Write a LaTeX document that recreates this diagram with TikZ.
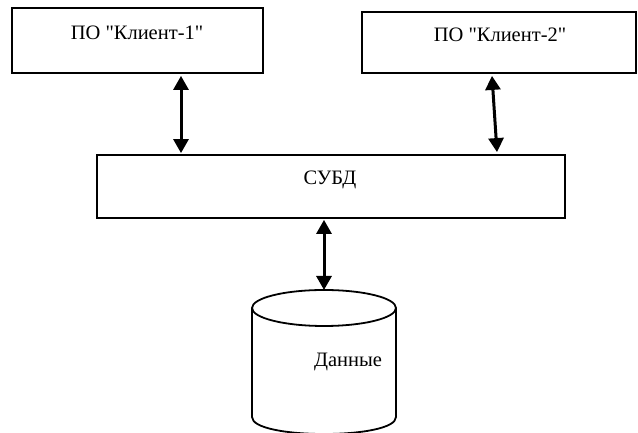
\documentclass[tikz,border=0pt]{standalone}
\usepackage{fontspec}
\setmainfont{Liberation Serif}[Ligatures=TeXOff]
\usetikzlibrary{arrows.meta}
\begin{document}
\begin{tikzpicture}[x=1pt,y=1pt,
  box/.style={draw=black,line width=1.8pt,rectangle,inner sep=0pt},
  lbl/.style={inner sep=0pt,font=\fontsize{20.5}{24}\selectfont},
  arr/.style={line width=3pt,{Triangle[width=15pt,length=14pt]}-{Triangle[width=15pt,length=14pt]}}]
\useasboundingbox (0,0) rectangle (638,433);
\fill[white] (0,0) rectangle (638,433);
% boxes
\node[box,minimum width=251pt,minimum height=65pt] (k1) at (137.5,392.5) {};
\node[box,minimum width=274pt,minimum height=61pt] (k2) at (499,390.5) {};
\node[box,minimum width=468pt,minimum height=63pt] (db) at (331,246.5) {};
% texts
\node[lbl] (t1) at (137,400) {ПО "Клиент-1"};
\node[lbl] (t2) at (500,398) {ПО "Клиент-2"};
\node[lbl] (t3) at (330,253.5) {СУБД};
% cylinder
\coordinate (cyl) at (324,143);
\draw[line width=1.8pt] (324,125) ellipse [x radius=72pt, y radius=18pt];
\draw[line width=1.8pt] (252,125) -- (252,16) .. controls (252,-6.7) and (396,-6.7) .. (396,16) -- (396,125);
\node[lbl] (t4) at (348,71) {Данные};
% arrows
\coordinate (a1) at (181,0);
\coordinate (a2) at (492,0);
\coordinate (a3) at (497,0);
\coordinate (a4) at (324,0);
\draw[arr] ([yshift=-2pt]k1.south -| a1) -- ([yshift=1pt]db.north -| a1);
\draw[arr] ([yshift=-2pt]k2.south -| a2) -- ([yshift=2pt]db.north -| a3);
\draw[arr] ([yshift=-1pt]db.south -| a4) -- (cyl);
\end{tikzpicture}
\end{document}
